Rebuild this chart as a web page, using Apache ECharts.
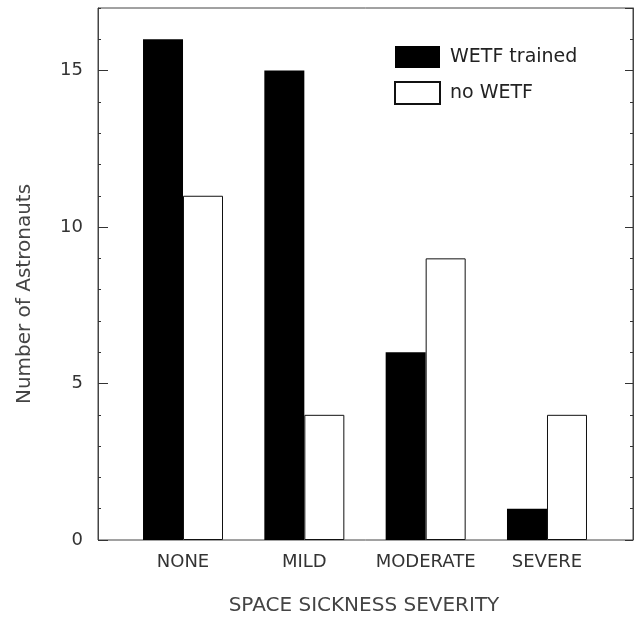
<!DOCTYPE html>
<html>
<head>
<meta charset="utf-8">
<script src="https://cdn.jsdelivr.net/npm/echarts@6/dist/echarts.min.js"></script>
<style>
  html, body { margin: 0; padding: 0; background: #fff; }
  #main { width: 640px; height: 618px; }
</style>
</head>
<body>
<div id="main"></div>
<script>
var categories = ['NONE', 'MILD', 'MODERATE', 'SEVERE'];
var wetfTrained = [16, 15, 6, 1];
var noWetf = [11, 4, 9, 4];
var yMax = 17;

var font = 'DejaVu Sans';
var ink = '#333';

var myChart = echarts.init(document.getElementById('main'));

myChart.setOption({
  animation: false,
  backgroundColor: '#fff',
  grid: [
    // frame with the axes
    { left: 98, right: 7, top: 8, bottom: 78, show: true, borderColor: '#444', borderWidth: 1 },
    // bars
    { left: 122.35, right: 32.35, top: 8, bottom: 78 }
  ],
  legend: {
    orient: 'vertical',
    left: 389,
    top: 41,
    itemWidth: 45,
    itemHeight: 22,
    itemGap: 13,
    icon: 'rect',
    textStyle: { fontFamily: font, fontSize: 19, color: '#222', padding: [0, 0, 0, 5] },
    data: ['WETF trained', 'no WETF']
  },
  xAxis: [
    { type: 'value', gridIndex: 0, show: false, min: 0, max: 1 },
    {
      type: 'category', gridIndex: 1, data: categories, boundaryGap: true,
      axisLine: { show: false }, axisTick: { show: false },
      axisLabel: { interval: 0, fontFamily: font, fontSize: 18, color: ink, margin: 13 }
    }
  ],
  yAxis: [
    {
      type: 'value', gridIndex: 0, position: 'left', min: 0, max: yMax, interval: 5,
      axisLine: { show: true, lineStyle: { color: '#444', width: 1 } },
      axisTick: { show: true, inside: true, length: 10, lineStyle: { color: '#333' } },
      axisLabel: { fontFamily: font, fontSize: 18, color: ink, margin: 15, showMaxLabel: false },
      splitLine: { show: false }
    },
    {
      type: 'value', gridIndex: 0, position: 'left', min: 0, max: yMax, interval: 1,
      axisLine: { show: false },
      axisTick: { show: true, inside: true, length: 3, lineStyle: { color: '#333' } },
      axisLabel: { show: false }, splitLine: { show: false }
    },
    {
      type: 'value', gridIndex: 0, position: 'right', min: 0, max: yMax, interval: 5,
      axisLine: { show: true, lineStyle: { color: '#444', width: 1 } },
      axisTick: { show: true, inside: true, length: 8, lineStyle: { color: '#333' } },
      axisLabel: { show: false }, splitLine: { show: false }
    },
    {
      type: 'value', gridIndex: 0, position: 'right', min: 0, max: yMax, interval: 1,
      axisLine: { show: false },
      axisTick: { show: true, inside: true, length: 3, lineStyle: { color: '#333' } },
      axisLabel: { show: false }, splitLine: { show: false }
    },
    { type: 'value', gridIndex: 1, min: 0, max: yMax, show: false, splitLine: { show: false } }
  ],
  series: [
    {
      name: 'WETF trained', type: 'bar', xAxisIndex: 1, yAxisIndex: 4,
      data: wetfTrained, barWidth: 40, barGap: '0%',
      itemStyle: { color: '#000' }
    },
    {
      name: 'no WETF', type: 'bar', xAxisIndex: 1, yAxisIndex: 4,
      data: noWetf, barWidth: 40, barGap: '0%',
      itemStyle: { color: '#fff', borderColor: '#111', borderWidth: 1 }
    }
  ],
  graphic: [
    {
      type: 'text', x: 25, y: 294, rotation: Math.PI / 2,
      style: {
        text: 'Number of Astronauts', fontFamily: font, fontSize: 20, fill: '#444',
        align: 'center', verticalAlign: 'middle'
      }
    },
    {
      type: 'text', x: 364, y: 606,
      style: {
        text: 'SPACE SICKNESS SEVERITY', fontFamily: font, fontSize: 20, fill: '#444',
        align: 'center', verticalAlign: 'middle'
      }
    }
  ]
});
</script>
</body>
</html>
